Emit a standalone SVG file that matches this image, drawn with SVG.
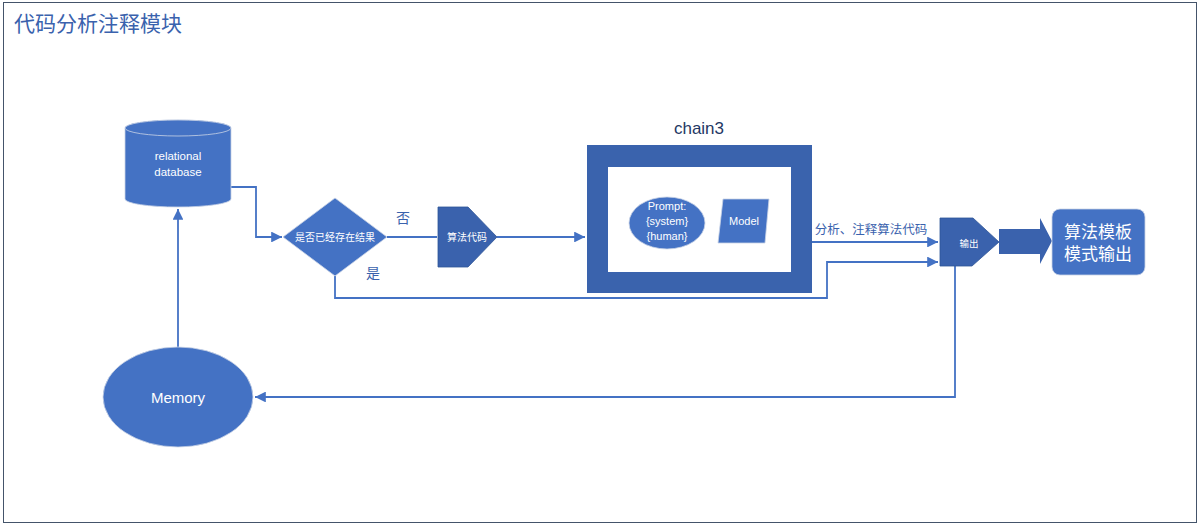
<svg xmlns="http://www.w3.org/2000/svg" width="1202" height="527" viewBox="0 0 1202 527">
<style>
.shape{fill:#4472c4;stroke:#c9d3e6;stroke-width:0.8}
.dark{fill:#3a62ad;stroke:#2f5597;stroke-width:0.8}
.wt{fill:#ffffff;font-family:"Liberation Sans","Noto Sans CJK SC",sans-serif;text-anchor:middle;dominant-baseline:central}
.lbl{fill:#3a62ad;font-family:"Liberation Sans","Noto Sans CJK SC",sans-serif}
.conn{fill:none;stroke:#4472c4;stroke-width:1.8}
</style>
<defs>
<marker id="ah" viewBox="0 0 10 10" refX="10" refY="5" markerWidth="6" markerHeight="6" orient="auto" markerUnits="strokeWidth">
<path d="M0,0 L10,5 L0,10 Z" fill="#4472c4"/>
</marker>
</defs>
<rect x="0" y="0" width="1202" height="527" fill="#ffffff"/>
<rect id="frame" x="3.5" y="2.5" width="1193" height="520" fill="none" stroke="#44546a" stroke-width="1"/>
<text x="14" y="31" class="lbl" font-size="21" fill="#2f5597">代码分析注释模块</text>

<g id="connectors">
<polyline class="conn" points="231,187 256,187 256,237 282,237" marker-end="url(#ah)"/>
<polyline class="conn" points="387,237 437,237"/>
<polyline class="conn" points="497,237 585,237" marker-end="url(#ah)"/>
<polyline class="conn" points="335,276 335,298 827,298 827,262 938,262" marker-end="url(#ah)"/>
<polyline class="conn" points="812,242 938,242" marker-end="url(#ah)"/>
<polyline class="conn" points="955,266 955,397 255,397" marker-end="url(#ah)"/>
<polyline class="conn" points="178,347 178,209" marker-end="url(#ah)"/>
</g>

<g id="db">
<path class="shape" d="M125,128 L125,199 A53,8 0 0 0 231,199 L231,128 A53,8 0 0 0 125,128 Z"/>
<ellipse cx="178" cy="128" rx="53" ry="8" fill="#4472c4" stroke="#c9d3e6" stroke-width="0.8"/>
<text class="wt" x="178" y="156" font-size="11.5">relational</text>
<text class="wt" x="178" y="172" font-size="11.5">database</text>
</g>

<g id="decision">
<polygon class="shape" points="335,198 387,237 335,276 283,237"/>
<text class="wt" x="335" y="237" font-size="10">是否已经存在结果</text>
</g>
<text x="403" y="223" class="lbl" font-size="14" text-anchor="middle">否</text>
<text x="373" y="278" class="lbl" font-size="14" text-anchor="middle">是</text>

<g id="code">
<polygon class="dark" points="438,207 468,207 497,237 468,267 438,267"/>
<text class="wt" x="467" y="237" font-size="10">算法代码</text>
</g>

<g id="chain3">
<text x="699" y="134" font-size="17" fill="#1f3864" font-family="Liberation Sans, sans-serif" text-anchor="middle">chain3</text>
<rect x="587" y="145" width="225" height="148" fill="#3a63ad"/>
<rect x="608" y="167" width="183" height="105" fill="#ffffff"/>
</g>

<g id="prompt">
<ellipse class="shape" cx="667" cy="223" rx="38" ry="26"/>
<text class="wt" x="667" y="206" font-size="11">Prompt:</text>
<text class="wt" x="667" y="221" font-size="11">{system}</text>
<text class="wt" x="667" y="236" font-size="11">{human}</text>
</g>

<g id="model">
<polygon class="shape" points="723,199 769,199 765,243 718,243"/>
<text class="wt" x="744" y="221" font-size="11">Model</text>
</g>
<text x="871" y="234" class="lbl" font-size="12.5" text-anchor="middle">分析、注释算法代码</text>

<g id="output">
<polygon class="dark" points="940,218 973,218 999,242 972,266 940,266"/>
<text class="wt" x="969" y="243" font-size="9.5">输出</text>
</g>

<g id="bigarrow">
<polygon fill="#3a62ad" points="999,229 1040,229 1040,218 1052,241 1040,264 1040,254 999,254"/>
</g>

<g id="result">
<rect class="shape" x="1052" y="209" width="93" height="66" rx="8"/>
<text class="wt" x="1098" y="232" font-size="17">算法模板</text>
<text class="wt" x="1098" y="254" font-size="17">模式输出</text>
</g>

<g id="memory">
<ellipse class="shape" cx="178" cy="397" rx="75" ry="50"/>
<text class="wt" x="178" y="397" font-size="15">Memory</text>
</g>
</svg>
